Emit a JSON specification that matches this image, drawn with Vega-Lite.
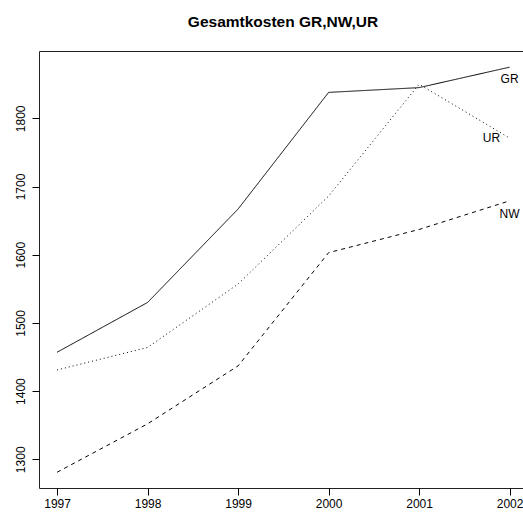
{
  "$schema": "https://vega.github.io/schema/vega-lite/v6.json",
  "width": 484,
  "height": 437,
  "autosize": {"type": "none"},
  "padding": {"left": 39, "top": 51, "right": 0, "bottom": 31},
  "background": "white",
  "config": {
    "view": {"stroke": "#222", "strokeWidth": 1},
    "font": "Liberation Sans",
    "axis": {"labelFont": "Liberation Sans", "labelColor": "black", "tickColor": "black", "grid": false, "domain": false}
  },
  "title": {
    "text": "Gesamtkosten GR,NW,UR",
    "font": "Liberation Sans",
    "fontSize": 15.5,
    "fontWeight": "bold",
    "color": "black",
    "anchor": "middle",
    "frame": "group",
    "baseline": "alphabetic",
    "offset": 9,
    "dx": 2
  },
  "datasets": {
    "kosten": [
      {"jahr": 1997, "serie": "GR", "wert": 1457},
      {"jahr": 1998, "serie": "GR", "wert": 1530},
      {"jahr": 1999, "serie": "GR", "wert": 1667},
      {"jahr": 2000, "serie": "GR", "wert": 1838},
      {"jahr": 2001, "serie": "GR", "wert": 1845},
      {"jahr": 2002, "serie": "GR", "wert": 1875},
      {"jahr": 1997, "serie": "NW", "wert": 1281},
      {"jahr": 1998, "serie": "NW", "wert": 1352},
      {"jahr": 1999, "serie": "NW", "wert": 1437},
      {"jahr": 2000, "serie": "NW", "wert": 1603},
      {"jahr": 2001, "serie": "NW", "wert": 1637},
      {"jahr": 2002, "serie": "NW", "wert": 1679},
      {"jahr": 1997, "serie": "UR", "wert": 1431},
      {"jahr": 1998, "serie": "UR", "wert": 1464},
      {"jahr": 1999, "serie": "UR", "wert": 1557},
      {"jahr": 2000, "serie": "UR", "wert": 1686},
      {"jahr": 2001, "serie": "UR", "wert": 1850},
      {"jahr": 2002, "serie": "UR", "wert": 1771}
    ],
    "beschriftung": [
      {"jahr": 2002, "wert": 1858, "serie": "GR"},
      {"jahr": 2001.8, "wert": 1771, "serie": "UR"},
      {"jahr": 2002, "wert": 1660, "serie": "NW"}
    ]
  },
  "layer": [
    {
      "data": {"name": "kosten"},
      "mark": {"type": "line", "color": "black", "strokeWidth": 1, "clip": false},
      "encoding": {
        "x": {
          "field": "jahr", "type": "quantitative",
          "scale": {"domain": [1996.8, 2002.148], "nice": false, "zero": false},
          "axis": {
            "title": null, "values": [1997, 1998, 1999, 2000, 2001, 2002], "format": "d",
            "tickSize": 7, "labelFontSize": 12, "labelPadding": 3,
            "labelBound": false, "labelFlush": false, "labelOverlap": false
          }
        },
        "y": {
          "field": "wert", "type": "quantitative",
          "scale": {"domain": [1257.9, 1898.7], "nice": false, "zero": false},
          "axis": {
            "title": null, "values": [1300, 1400, 1500, 1600, 1700, 1800], "format": "d",
            "tickSize": 7, "labelFontSize": 12, "labelAngle": 270,
            "labelAlign": "center", "labelBaseline": "bottom", "labelPadding": 5,
            "labelBound": false, "labelFlush": false, "labelOverlap": false
          }
        },
        "detail": {"field": "serie"},
        "strokeDash": {
          "field": "serie", "type": "nominal",
          "scale": {"domain": ["GR", "NW", "UR"], "range": [[1, 0], [4, 4], [1, 3]]},
          "legend": null
        }
      }
    },
    {
      "data": {"name": "beschriftung"},
      "mark": {"type": "text", "fontSize": 12, "font": "Liberation Sans", "color": "black", "align": "center", "baseline": "middle"},
      "encoding": {
        "x": {"field": "jahr", "type": "quantitative"},
        "y": {"field": "wert", "type": "quantitative"},
        "text": {"field": "serie"}
      }
    }
  ]
}
